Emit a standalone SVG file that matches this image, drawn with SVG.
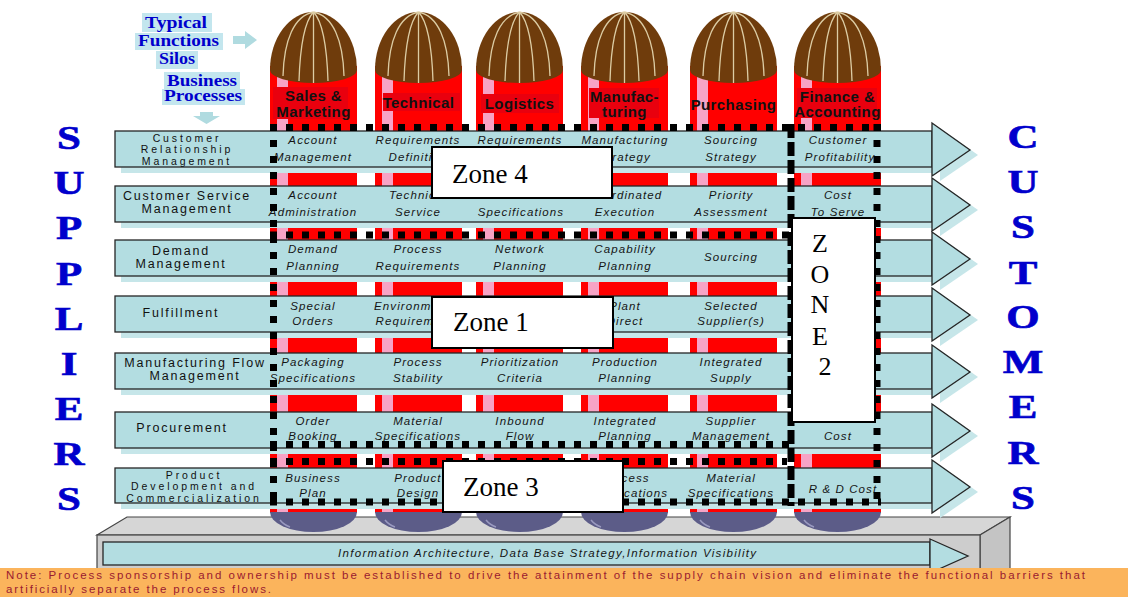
<svg xmlns="http://www.w3.org/2000/svg" xmlns:xlink="http://www.w3.org/1999/xlink" width="1128" height="597" viewBox="0 0 1128 597">
<style>
.row{fill:#b3dde1;stroke:#262626;stroke-width:1.3}
.shd{fill:#c6e6e9}
.lbl{font-family:"Liberation Sans",Arial,sans-serif;font-size:12.5px;letter-spacing:1.8px;text-anchor:middle;fill:#111}
.lbl3{font-family:"Liberation Sans",Arial,sans-serif;font-size:10.5px;letter-spacing:2.9px;text-anchor:middle;fill:#111}
.cell{font-family:"Liberation Sans",Arial,sans-serif;font-style:italic;font-size:11.5px;letter-spacing:1.1px;text-anchor:middle;fill:#151515}
.hdr{font-family:"Liberation Sans",Arial,sans-serif;font-weight:bold;font-size:15px;letter-spacing:0.4px;text-anchor:middle;fill:#111}
.big{font-family:"Liberation Serif","Times New Roman",serif;font-weight:bold;font-size:33px;fill:#0000cc;stroke:#0000cc;stroke-width:0.6;text-anchor:middle}
.zt{font-family:"Liberation Serif","Times New Roman",serif;font-size:27px;fill:#000}
.zl{font-family:"Liberation Serif","Times New Roman",serif;font-size:26px;fill:#000;text-anchor:middle}
.zbox{fill:#fff;stroke:#000;stroke-width:2}
.dot{fill:none;stroke:#000;stroke-width:7;stroke-dasharray:7 9}
.dash{fill:none;stroke:#000;stroke-width:7;stroke-dasharray:14 4}
.tf{font-family:"Liberation Serif","Times New Roman",serif;font-weight:bold;font-size:16px;fill:#0000cc}
.hl{fill:#c3e6ee}
.mer{fill:none;stroke:#dccca4;stroke-width:1.3}
.hbg{fill:#e9000e}
.note{font-family:"Liberation Sans",Arial,sans-serif;font-size:11.5px;fill:#9a1a30}
.info{font-family:"Liberation Sans",Arial,sans-serif;font-style:italic;font-size:11.5px;fill:#151515}
.plat{stroke:#444;stroke-width:1.2}
.arr{fill:#b0dbe0}
</style>
<defs>
<g id="siloShape">
 <rect x="0" y="66" width="87" height="447" fill="#ff0000"/>
 <rect x="7" y="72" width="11" height="441" fill="#f7a3c5"/>
 <path d="M0,70 A43.5,58 0 0 1 87,70 A43.5,13 0 0 1 0,70 Z" fill="#6f3c0c"/>
 <path class="mer" d="M43.5,12 C24,16 14,40 13,76 M43.5,12 C34,22 30,50 29,81 M43.5,12 L43.5,83 M43.5,12 C53,22 57,50 58,81 M43.5,12 C63,16 73,40 74,76"/>
 <path d="M0,512 A43.5,20 0 0 0 87,512 Z" fill="#5c5c88"/>
 <path d="M10,520 Q14,525 20,527" fill="none" stroke="#9a9ac0" stroke-width="1.5"/>
</g>
</defs>
<rect x="0" y="0" width="1128" height="597" fill="#ffffff"/>

<g id="platform">
 <polygon class="plat" points="97,535 127,517 1010,517 980,535" fill="#d6d6d6"/>
 <polygon class="plat" points="980,535 1010,517 1010,570 980,570" fill="#c4c4c4"/>
 <rect class="plat" x="97" y="535" width="883" height="36" fill="#cdcdcd"/>
</g>

<g id="silo-sales">
 <use xlink:href="#siloShape" x="270"/>
 <rect class="hbg" x="273" y="87" width="75" height="32"/>
 <text class="hdr" x="313.5" y="101">Sales &amp;</text>
 <text class="hdr" x="313.5" y="117">Marketing</text>
</g>
<g id="silo-technical">
 <use xlink:href="#siloShape" x="375"/>
 <rect class="hbg" x="383" y="93" width="77" height="18"/>
 <text class="hdr" x="418.5" y="108">Technical</text>
</g>
<g id="silo-logistics">
 <use xlink:href="#siloShape" x="476"/>
 <rect class="hbg" x="481" y="94" width="78" height="19"/>
 <text class="hdr" x="519.5" y="109">Logistics</text>
</g>
<g id="silo-manufacturing">
 <use xlink:href="#siloShape" x="581"/>
 <rect class="hbg" x="589" y="88" width="70" height="30"/>
 <text class="hdr" x="624.5" y="102">Manufac-</text>
 <text class="hdr" x="624.5" y="117">turing</text>
</g>
<g id="silo-purchasing">
 <use xlink:href="#siloShape" x="690"/>
 <text class="hdr" x="733.5" y="110">Purchasing</text>
</g>
<g id="silo-finance">
 <use xlink:href="#siloShape" x="794"/>
 <rect class="hbg" x="797" y="88" width="80" height="30"/>
 <text class="hdr" x="837.5" y="102">Finance &amp;</text>
 <text class="hdr" x="837.5" y="117">Accounting</text>
</g>

<g id="row-crm">
 <rect class="shd" x="121" y="137" width="817" height="36"/>
 <polygon class="shd" points="940,128 978,155 940,181"/>
 <rect class="row" x="115" y="131" width="817" height="36"/>
 <polygon class="row" points="932,123 970,150 932,176"/>
 <text class="lbl3" x="187" y="141.5">Customer</text>
 <text class="lbl3" x="187" y="153">Relationship</text>
 <text class="lbl3" x="187" y="164.5">Management</text>
 <text class="cell" x="313" y="144">Account</text><text class="cell" x="313" y="161">Management</text>
 <text class="cell" x="418" y="144">Requirements</text><text class="cell" x="418" y="161">Definition</text>
 <text class="cell" x="520" y="144">Requirements</text>
 <text class="cell" x="625" y="144">Manufacturing</text><text class="cell" x="625" y="161">Strategy</text>
 <text class="cell" x="731" y="144">Sourcing</text><text class="cell" x="731" y="161">Strategy</text>
 <text class="cell" x="838" y="144">Customer</text><text class="cell" x="840" y="161">Profitability</text>
</g>

<g id="row-csm">
 <rect class="shd" x="121" y="192" width="817" height="36"/>
 <polygon class="shd" points="940,183 978,210 940,236"/>
 <rect class="row" x="115" y="186" width="817" height="36"/>
 <polygon class="row" points="932,178 970,205 932,231"/>
 <text class="lbl" x="187" y="200">Customer Service</text>
 <text class="lbl" x="187" y="213">Management</text>
 <text class="cell" x="313" y="199">Account</text><text class="cell" x="313" y="216">Administration</text>
 <text class="cell" x="418" y="199">Technical</text><text class="cell" x="418" y="216">Service</text>
 <text class="cell" x="521" y="216">Specifications</text>
 <text class="cell" x="625" y="199">Coordinated</text><text class="cell" x="625" y="216">Execution</text>
 <text class="cell" x="731" y="199">Priority</text><text class="cell" x="731" y="216">Assessment</text>
 <text class="cell" x="838" y="199">Cost</text><text class="cell" x="838" y="216">To Serve</text>
</g>

<g id="row-demand">
 <rect class="shd" x="121" y="246" width="817" height="36"/>
 <polygon class="shd" points="940,237 978,264 940,290"/>
 <rect class="row" x="115" y="240" width="817" height="36"/>
 <polygon class="row" points="932,232 970,259 932,285"/>
 <text class="lbl" x="181" y="255">Demand</text>
 <text class="lbl" x="181" y="268">Management</text>
 <text class="cell" x="313" y="253">Demand</text><text class="cell" x="313" y="270">Planning</text>
 <text class="cell" x="418" y="253">Process</text><text class="cell" x="418" y="270">Requirements</text>
 <text class="cell" x="520" y="253">Network</text><text class="cell" x="520" y="270">Planning</text>
 <text class="cell" x="625" y="253">Capability</text><text class="cell" x="625" y="270">Planning</text>
 <text class="cell" x="731" y="261">Sourcing</text>
</g>

<g id="row-fulfillment">
 <rect class="shd" x="121" y="302" width="817" height="36"/>
 <polygon class="shd" points="940,293 978,320 940,346"/>
 <rect class="row" x="115" y="296" width="817" height="36"/>
 <polygon class="row" points="932,288 970,315 932,341"/>
 <text class="lbl" x="181" y="317">Fulfillment</text>
 <text class="cell" x="313" y="310">Special</text><text class="cell" x="313" y="325">Orders</text>
 <text class="cell" x="418" y="310">Environmental</text><text class="cell" x="418" y="325">Requirements</text>
 <text class="cell" x="625" y="310">Plant</text><text class="cell" x="625" y="325">Direct</text>
 <text class="cell" x="731" y="310">Selected</text><text class="cell" x="731" y="325">Supplier(s)</text>
</g>

<g id="row-mfg-flow">
 <rect class="shd" x="121" y="359" width="817" height="36"/>
 <polygon class="shd" points="940,350 978,377 940,403"/>
 <rect class="row" x="115" y="353" width="817" height="36"/>
 <polygon class="row" points="932,345 970,372 932,398"/>
 <text class="lbl" x="195" y="367">Manufacturing Flow</text>
 <text class="lbl" x="195" y="380">Management</text>
 <text class="cell" x="313" y="366">Packaging</text><text class="cell" x="313" y="382">Specifications</text>
 <text class="cell" x="418" y="366">Process</text><text class="cell" x="418" y="382">Stability</text>
 <text class="cell" x="520" y="366">Prioritization</text><text class="cell" x="520" y="382">Criteria</text>
 <text class="cell" x="625" y="366">Production</text><text class="cell" x="625" y="382">Planning</text>
 <text class="cell" x="731" y="366">Integrated</text><text class="cell" x="731" y="382">Supply</text>
</g>

<g id="row-procurement">
 <rect class="shd" x="121" y="418" width="817" height="36"/>
 <polygon class="shd" points="940,409 978,436 940,462"/>
 <rect class="row" x="115" y="412" width="817" height="36"/>
 <polygon class="row" points="932,404 970,431 932,457"/>
 <text class="lbl" x="182" y="432">Procurement</text>
 <text class="cell" x="313" y="425">Order</text><text class="cell" x="313" y="440">Booking</text>
 <text class="cell" x="418" y="425">Material</text><text class="cell" x="418" y="440">Specifications</text>
 <text class="cell" x="520" y="425">Inbound</text><text class="cell" x="520" y="440">Flow</text>
 <text class="cell" x="625" y="425">Integrated</text><text class="cell" x="625" y="440">Planning</text>
 <text class="cell" x="731" y="425">Supplier</text><text class="cell" x="731" y="440">Management</text>
 <text class="cell" x="838" y="440">Cost</text>
</g>

<g id="row-product-dev">
 <rect class="shd" x="121" y="474" width="817" height="35"/>
 <polygon class="shd" points="940,465 978,492 940,518"/>
 <rect class="row" x="115" y="468" width="817" height="35"/>
 <polygon class="row" points="932,460 970,487 932,513"/>
 <text class="lbl3" x="194" y="478.5">Product</text>
 <text class="lbl3" x="194" y="490">Development and</text>
 <text class="lbl3" x="194" y="501.5">Commercialization</text>
 <text class="cell" x="313" y="482">Business</text><text class="cell" x="313" y="497">Plan</text>
 <text class="cell" x="418" y="482">Product</text><text class="cell" x="418" y="497">Design</text>
 <text class="cell" x="625" y="482">Process</text><text class="cell" x="625" y="497">Specifications</text>
 <text class="cell" x="731" y="482">Material</text><text class="cell" x="731" y="497">Specifications</text>
 <text class="cell" x="843" y="493">R &amp; D Cost</text>
</g>

<g id="zone-boundaries">
 <path class="dot" d="M270,127.5 H881"/>
 <path class="dot" d="M273.5,124 V506"/>
 <path class="dot" d="M270,235 H790"/>
 <path class="dot" d="M270,444.5 H793"/>
 <path class="dot" d="M270,461.5 H787"/>
 <path class="dot" d="M270,502 H881"/>
 <path class="dash" d="M791,124 V506"/>
 <path class="dot" d="M877,124 V506"/>
</g>

<g id="zone-4">
 <rect class="zbox" x="432" y="147" width="180" height="51"/>
 <text class="zt" x="452" y="183">Zone 4</text>
</g>
<g id="zone-1">
 <rect class="zbox" x="432" y="297" width="181" height="51"/>
 <text class="zt" x="453" y="331">Zone 1</text>
</g>
<g id="zone-3">
 <rect class="zbox" x="443" y="461" width="180" height="51"/>
 <text class="zt" x="463" y="496">Zone 3</text>
</g>
<g id="zone-2">
 <rect class="zbox" x="792" y="218" width="83" height="204"/>
 <text class="zl" x="820" y="252">Z</text>
 <text class="zl" x="820" y="283">O</text>
 <text class="zl" x="820" y="313">N</text>
 <text class="zl" x="820" y="345">E</text>
 <text class="zl" x="825" y="375">2</text>
</g>

<g id="suppliers" transform="matrix(1.3 0 0 1 -20.7 0)">
 <text class="big" x="69" y="149">S</text>
 <text class="big" x="69" y="194">U</text>
 <text class="big" x="69" y="239">P</text>
 <text class="big" x="69" y="285">P</text>
 <text class="big" x="69" y="330">L</text>
 <text class="big" x="69" y="375">I</text>
 <text class="big" x="69" y="420">E</text>
 <text class="big" x="69" y="465">R</text>
 <text class="big" x="69" y="510">S</text>
</g>
<g id="customers" transform="matrix(1.3 0 0 1 -306.9 0)">
 <text class="big" x="1023" y="148">C</text>
 <text class="big" x="1023" y="193">U</text>
 <text class="big" x="1023" y="238">S</text>
 <text class="big" x="1023" y="284">T</text>
 <text class="big" x="1023" y="328">O</text>
 <text class="big" x="1023" y="373">M</text>
 <text class="big" x="1023" y="418">E</text>
 <text class="big" x="1023" y="464">R</text>
 <text class="big" x="1023" y="509">S</text>
</g>

<g id="legend">
 <rect class="hl" x="142" y="13" width="70" height="19"/>
 <rect class="hl" x="135" y="33" width="88" height="17"/>
 <rect class="hl" x="156" y="51" width="42" height="18"/>
 <rect class="hl" x="164" y="72" width="76" height="17"/>
 <rect class="hl" x="162" y="89" width="83" height="16"/>
 <text class="tf" x="145" y="28" textLength="62" lengthAdjust="spacingAndGlyphs">Typical</text>
 <text class="tf" x="138" y="46" textLength="81" lengthAdjust="spacingAndGlyphs">Functions</text>
 <text class="tf" x="159" y="64" textLength="36" lengthAdjust="spacingAndGlyphs">Silos</text>
 <text class="tf" x="167" y="86" textLength="70" lengthAdjust="spacingAndGlyphs">Business</text>
 <text class="tf" x="164" y="101" textLength="78" lengthAdjust="spacingAndGlyphs">Processes</text>
</g>

<g id="connectors">
 <polygon class="arr" points="233,36 245,36 245,31 257,40 245,49 245,44 233,44"/>
 <polygon class="arr" points="200,112 213,112 213,116 220,116 206.5,124 193,116 200,116"/>
</g>

<g id="info-bar">
 <rect class="row" x="103" y="542" width="827" height="23"/>
 <polygon class="row" points="930,539 968,556 930,573"/>
 <text class="info" x="338" y="557" textLength="418" lengthAdjust="spacing">Information Architecture, Data Base Strategy,Information Visibility</text>
</g>

<g id="note">
 <rect x="0" y="568" width="1128" height="29" fill="#fbb45c"/>
 <text class="note" x="6" y="579" textLength="1079" lengthAdjust="spacing">Note: Process sponsorship and ownership must be established to drive the attainment of the supply chain vision and eliminate the functional barriers that</text>
 <text class="note" x="6" y="593" textLength="265" lengthAdjust="spacing">artificially separate the process flows.</text>
</g>
</svg>
